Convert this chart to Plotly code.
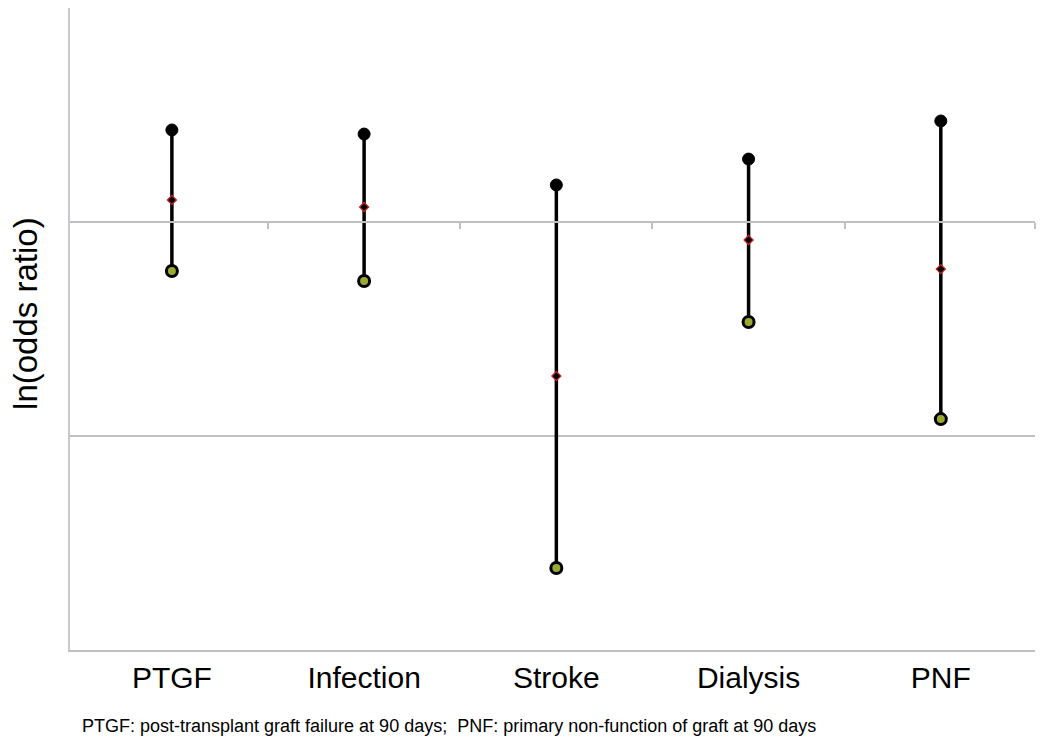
import plotly.graph_objects as go

categories = ["PTGF", "Infection", "Stroke", "Dialysis", "PNF"]
upper = [0.430, 0.411, 0.173, 0.294, 0.472]
point = [0.103, 0.070, -0.720, -0.084, -0.220]
lower = [-0.229, -0.276, -1.617, -0.467, -0.921]
y_ticks = [-2, -1, 0, 1]
footnote = "PTGF: post-transplant graft failure at 90 days;  PNF: primary non-function of graft at 90 days"

fig = go.Figure()

# vertical interval lines
lx, ly = [], []
for c, lo, hi in zip(categories, lower, upper):
    lx += [c, c, None]
    ly += [lo, hi, None]
fig.add_trace(go.Scatter(x=lx, y=ly, mode="lines", line=dict(color="black", width=3.5),
                         hoverinfo="skip", showlegend=False))
fig.add_trace(go.Scatter(x=categories, y=upper, mode="markers",
                         marker=dict(color="black", size=12, line=dict(color="black", width=1)),
                         showlegend=False))
fig.add_trace(go.Scatter(x=categories, y=lower, mode="markers",
                         marker=dict(color="#9aaa30", size=11, line=dict(color="black", width=3)),
                         showlegend=False))
fig.add_trace(go.Scatter(x=categories, y=point, mode="markers",
                         marker=dict(symbol="diamond", size=7, color="black",
                                     line=dict(color="#d02020", width=1.2)),
                         showlegend=False))

# category tick marks on the zero line
fig.add_trace(go.Scatter(x=[], y=[], xaxis="x2", showlegend=False))

xr = [-0.53, 4.49]
fig.update_layout(
    width=1042, height=737,
    paper_bgcolor="white", plot_bgcolor="white",
    margin=dict(l=62, r=15, t=0, b=95),
    font=dict(family="Liberation Sans, Arial, sans-serif", color="black"),
    xaxis=dict(type="category", categoryorder="array", categoryarray=categories,
               range=xr, showgrid=False, zeroline=False,
               showline=True, linecolor="#c0c0c0", linewidth=2,
               ticks="", tickfont=dict(size=30), fixedrange=True),
    xaxis2=dict(overlaying="x", anchor="free", position=2/3, range=xr,
                tickvals=[0.5, 1.5, 2.5, 3.5, 4.49], ticks="outside", ticklen=6,
                tickcolor="#c0c0c0", tickwidth=2, showticklabels=False,
                showline=True, linecolor="#c0c0c0", linewidth=2, showgrid=False,
                zeroline=False),
    yaxis=dict(range=[-2, 1], tickvals=y_ticks, showticklabels=False,
               showgrid=True, gridcolor="#c0c0c0", gridwidth=2, zeroline=False,
               showline=True, linecolor="#c8c8d0", linewidth=2, ticks=""),
    annotations=[
        dict(text=footnote, xref="paper", yref="paper", x=0.0107, y=-0.119,
             xanchor="left", yanchor="middle", showarrow=False,
             font=dict(size=18, color="black")),
        dict(text="ln(odds ratio)", xref="paper", yref="paper", x=-0.0456, y=0.525,
             xanchor="center", yanchor="middle", textangle=-90, showarrow=False,
             font=dict(size=33, color="black")),
    ],
)

fig.write_html("out.html")
